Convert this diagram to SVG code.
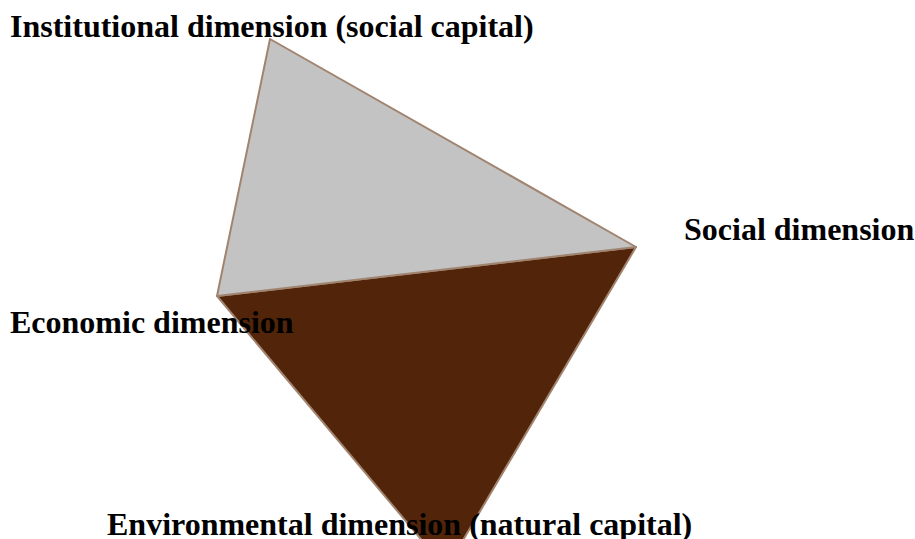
<svg xmlns="http://www.w3.org/2000/svg" width="915" height="539" viewBox="0 0 915 539">
  <style>
    .label { font-family: "Liberation Serif", "Times New Roman", serif; font-weight: bold; font-size: 32px; fill: #000; }
    .face { stroke: #a08470; stroke-width: 2; stroke-linejoin: round; }
  </style>
  <rect width="915" height="539" fill="#fff"/>
  <g id="lower-face">
    <polygon class="face" points="217,296 636,247 446,569" fill="#52250a"/>
  </g>
  <g id="upper-face">
    <polygon class="face" points="270,39 636,247 217,296" fill="#c3c3c3"/>
  </g>
  <g id="institutional">
    <text class="label" x="10" y="37">Institutional dimension (social capital)</text>
  </g>
  <g id="social">
    <text class="label" x="684" y="240">Social dimension</text>
  </g>
  <g id="economic">
    <text class="label" x="10" y="333">Economic dimension</text>
  </g>
  <g id="environmental">
    <text class="label" x="107" y="535">Environmental dimension (natural capital)</text>
  </g>
</svg>
